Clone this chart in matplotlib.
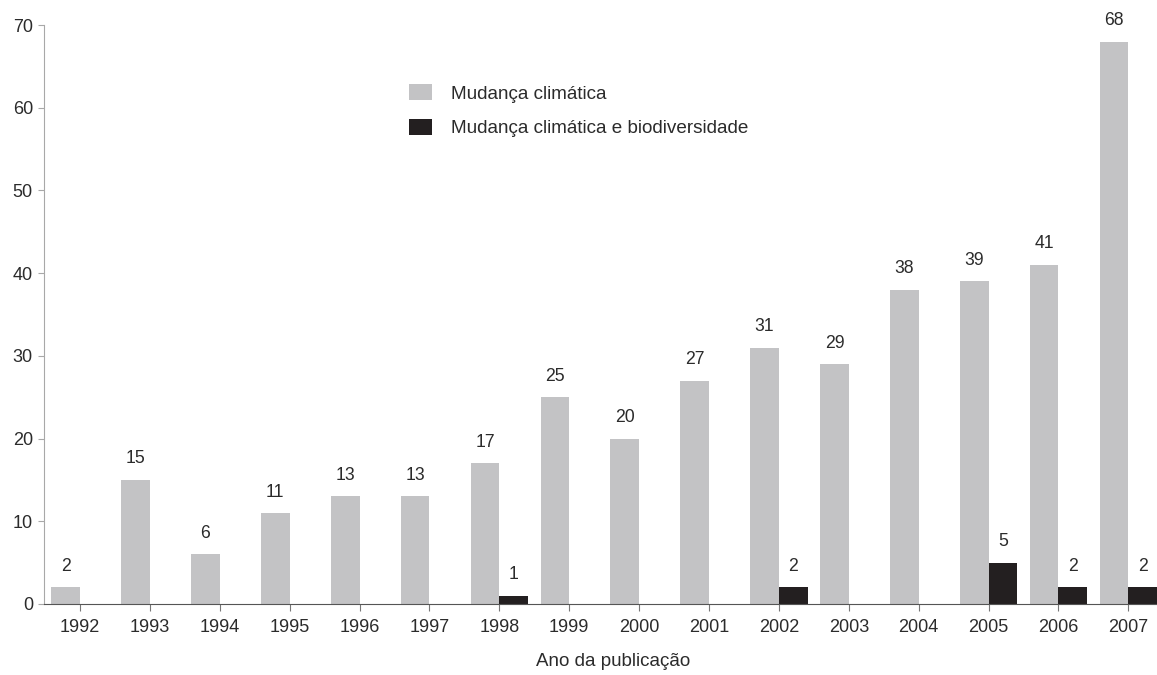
import matplotlib
matplotlib.use("Agg")
import matplotlib.pyplot as plt
import numpy as np

years = ["1992", "1993", "1994", "1995", "1996", "1997", "1998", "1999",
         "2000", "2001", "2002", "2003", "2004", "2005", "2006", "2007"]
climate = [2, 15, 6, 11, 13, 13, 17, 25, 20, 27, 31, 29, 38, 39, 41, 68]
climate_bio = [0, 0, 0, 0, 0, 0, 1, 0, 0, 0, 2, 0, 0, 5, 2, 2]
yticks = [0, 10, 20, 30, 40, 50, 60, 70]

plt.rcParams["font.family"] = ["Liberation Sans", "DejaVu Sans"]
text_color = "#2b2b2b"
gray = "#c3c3c5"
black = "#231f20"

fig = plt.figure(figsize=(11.57, 6.75), dpi=100)
ax = fig.add_axes([44 / 1157, 1 - 604 / 675, 1 - 44 / 1157, (604 - 25) / 675])

x = np.arange(len(years))
w = 0.41
ax.bar(x - w / 2, climate, width=w, color=gray, label="Mudança climática")
bio_x = [xi for xi, v in zip(x, climate_bio) if v > 0]
bio_v = [v for v in climate_bio if v > 0]
ax.bar(np.array(bio_x) + w / 2, bio_v, width=w, color=black,
       label="Mudança climática e biodiversidade")

for xi, v in zip(x, climate):
    ax.annotate(str(v), (xi - w / 2, v), xytext=(0, 9), textcoords="offset points",
                ha="center", va="bottom", fontsize=12.7, color=text_color,
                annotation_clip=False)
for xi, v in zip(bio_x, bio_v):
    ax.annotate(str(v), (xi + w / 2, v), xytext=(0, 9), textcoords="offset points",
                ha="center", va="bottom", fontsize=12.7, color=text_color,
                annotation_clip=False)

ax.set_xlim(-0.515, 15.41)
ax.set_ylim(0, 70)
ax.set_xticks(x)
ax.set_xticklabels(years)
ax.set_yticks(yticks)

for s in ["top", "right"]:
    ax.spines[s].set_visible(False)
ax.spines["left"].set_color("#a8a8a8")
ax.spines["bottom"].set_color("#555555")
ax.tick_params(axis="x", direction="out", length=5, color="#777777",
               labelsize=13, labelcolor=text_color, pad=6)
ax.tick_params(axis="y", direction="out", length=4, color="#a8a8a8",
               labelsize=13, labelcolor=text_color, pad=4)

ax.set_xlabel("Ano da publicação", fontsize=13.5, color=text_color, labelpad=12)
ax.xaxis.set_label_coords(0.511, -0.085)

leg = ax.legend(loc="upper left", bbox_to_anchor=(0.313, 0.927), frameon=False,
                fontsize=13.6, handlelength=1.18, handleheight=0.92,
                handletextpad=1.0, labelspacing=0.85)
for t in leg.get_texts():
    t.set_color(text_color)

fig.savefig("out.png", dpi=100)
